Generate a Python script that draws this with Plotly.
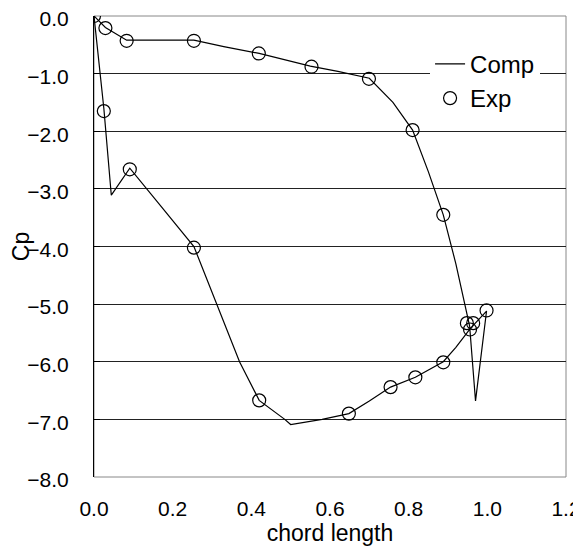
import plotly.graph_objects as go

# Computed Cp (closed loop around the airfoil)
comp_x = [0.0, 0.029, 0.083, 0.15, 0.254, 0.33, 0.42, 0.55, 0.62, 0.70, 0.76, 0.81,
          0.85, 0.888, 0.92, 0.955, 0.970, 0.998, 0.957, 0.92, 0.888, 0.817, 0.754,
          0.70, 0.648, 0.58, 0.50, 0.485, 0.42, 0.37, 0.33, 0.29, 0.254, 0.17, 0.091,
          0.044, 0.025, 0.0]
comp_y = [0.0, -0.20, -0.42, -0.42, -0.42, -0.53, -0.65, -0.87, -0.96, -1.08, -1.50, -1.98,
          -2.70, -3.45, -4.30, -5.38, -6.68, -5.12, -5.42, -5.75, -6.00, -6.27, -6.44,
          -6.68, -6.90, -7.00, -7.09, -7.00, -6.67, -6.00, -5.30, -4.60, -4.00, -3.30, -2.64,
          -3.11, -1.60, 0.0]

# Experimental Cp
exp_x = [0.0, 0.029, 0.083, 0.254, 0.419, 0.553, 0.699, 0.81, 0.888, 0.948, 0.964, 0.956,
         0.998, 0.888, 0.817, 0.754, 0.648, 0.42, 0.254, 0.091, 0.025]
exp_y = [0.0, -0.21, -0.43, -0.43, -0.65, -0.88, -1.09, -1.98, -3.45, -5.33, -5.33, -5.44,
         -5.11, -6.01, -6.27, -6.44, -6.90, -6.67, -4.02, -2.66, -1.65]

x_ticks = [0.0, 0.2, 0.4, 0.6, 0.8, 1.0, 1.2]
y_ticks = [0.0, -1.0, -2.0, -3.0, -4.0, -5.0, -6.0, -7.0, -8.0]

FONT = "Liberation Sans, Arial, sans-serif"

fig = go.Figure()
fig.add_trace(go.Scatter(x=comp_x, y=comp_y, mode="lines", name="Comp",
                         line=dict(color="black", width=1.2)))
fig.add_trace(go.Scatter(x=exp_x, y=exp_y, mode="markers", name="Exp",
                         marker=dict(symbol="circle-open", size=13, color="black",
                                     line=dict(width=1.2, color="black"))))

# gray frame on right/bottom
fig.add_shape(type="rect", xref="paper", yref="paper", x0=0, y0=0, x1=1, y1=1,
              line=dict(color="#888888", width=1), layer="below")

fig.update_layout(
    width=573, height=549,
    margin=dict(l=86, r=15, t=8, b=80, autoexpand=False),
    paper_bgcolor="white", plot_bgcolor="white",
    font=dict(family=FONT, size=21, color="black"),
    showlegend=True,
    legend=dict(x=0.712, y=0.944, xanchor="left", yanchor="top",
                bgcolor="white", borderwidth=0,
                font=dict(size=24, family=FONT),
                itemsizing="trace", tracegroupgap=0),
    xaxis=dict(range=[0, 1.2], tickvals=x_ticks, tickformat=".1f",
               showgrid=False, zeroline=False, showline=False, automargin=False,
               ticks="", ticklabelstandoff=17, ticklabeloverflow="allow",
               title=dict(text="chord length", standoff=0, font=dict(size=23))),
    yaxis=dict(range=[-8, 0], tickvals=y_ticks, tickformat=".1f", automargin=False,
               showgrid=True, gridcolor="#222222", gridwidth=1,
               zeroline=False, showline=True, linecolor="black", linewidth=1,
               ticks="inside", ticklen=6, tickcolor="black",
               ticklabelstandoff=20, ticklabeloverflow="allow", ticklabelshift=3,
               title=dict(text="Cp", standoff=0, font=dict(size=23))),
)

fig.write_html("out.html")
